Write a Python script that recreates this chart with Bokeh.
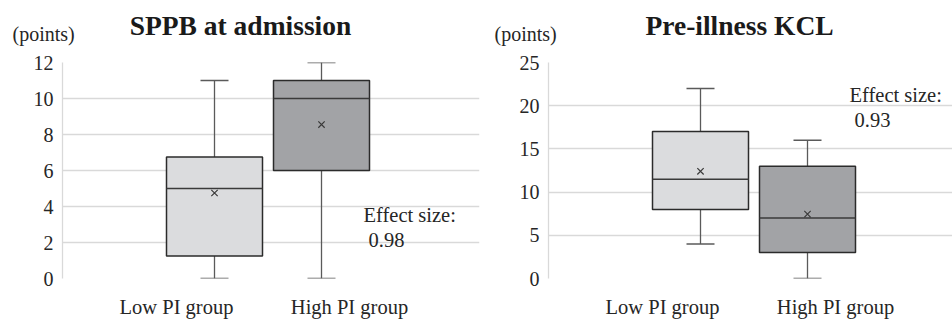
from bokeh.plotting import figure
from bokeh.layouts import row, column
from bokeh.models import Range1d, FixedTicker, Label
from bokeh.embed import file_html
from bokeh.resources import INLINE

# ---------------- data ----------------
groups = ["Low PI group", "High PI group"]

sppb_title = "SPPB at admission"
sppb_min = [0, 0]
sppb_q1 = [1.25, 6]
sppb_med = [5, 10]
sppb_q3 = [6.75, 11]
sppb_max = [11, 12]
sppb_mean = [4.75, 8.55]
sppb_ticks = [0, 2, 4, 6, 8, 10, 12]
sppb_effect = "0.98"

kcl_title = "Pre-illness KCL"
kcl_min = [4, 0]
kcl_q1 = [8, 3]
kcl_med = [11.5, 7]
kcl_q3 = [17, 13]
kcl_max = [22, 16]
kcl_mean = [12.4, 7.45]
kcl_ticks = [0, 5, 10, 15, 20, 25]
kcl_effect = "0.93"

unit_label = "(points)"
effect_label = "Effect size:"

# ---------------- style / layout ----------------
FONT = "Liberation Serif"
TXT = "#262626"
GRID = "#d9d9d9"
FILLS = ["#dbdcde", "#a2a3a6"]
EDGE = "#2b2b2b"
WHISK = "#5a5a5a"
HEAD_H = 50
HEAD_DY = -10             # correction for the header strip's vertical placement
FRAME_H = 216
TOP = 12
BOTTOM = 42
H = TOP + FRAME_H + BOTTOM
CENTERS = [152, 259]      # box centres, px from frame left
BOX_W = 96
CAP_W = 28
LABEL_X = [114, 287]      # category label centres, px from frame left


def text_label(x, y, text, units="screen", size="20.5px", align="left", bold=False, color=TXT):
    return Label(x=x, y=y, x_units=units, y_units=units, text=text,
                 text_font=FONT, text_font_size=size,
                 text_font_style="bold" if bold else "normal",
                 text_color=color, text_align=align, text_baseline="alphabetic")


def make_header(title, width, title_x, points_x):
    # a bare strip whose frame is the whole canvas; data units = pixels, y downwards
    h = figure(width=width, height=HEAD_H, x_range=Range1d(0, width),
               y_range=Range1d(HEAD_H, 0), output_backend="svg", toolbar_location=None,
               min_border=0, frame_align=False)
    h.axis.visible = False
    h.grid.visible = False
    h.outline_line_color = None
    h.background_fill_color = "white"
    h.border_fill_color = "white"
    h.add_layout(text_label(title_x, 35 + HEAD_DY, title, units="data", size="27.5px",
                            align="center", bold=True, color="#1a1a1a"))
    h.add_layout(text_label(points_x, 43 + HEAD_DY, unit_label, units="data", size="20px"))
    return h


def make_chart(vmin, q1, med, q3, vmax, mean, ticks, effect,
               width, left, right, eff_pos):
    ymax = ticks[-1]
    frame_w = width - left - right
    p = figure(width=width, height=H,
               x_range=Range1d(0, frame_w), y_range=Range1d(0, ymax),
               output_backend="svg", toolbar_location=None,
               min_border_left=left, min_border_right=right,
               min_border_top=TOP, min_border_bottom=BOTTOM, frame_align=False)
    p.outline_line_color = None
    p.background_fill_color = "white"
    p.border_fill_color = "white"
    p.xgrid.visible = False
    p.ygrid.ticker = FixedTicker(ticks=ticks)
    p.ygrid.grid_line_color = GRID
    p.ygrid.grid_line_width = 1.3

    ya = p.yaxis[0]
    ya.ticker = FixedTicker(ticks=ticks)
    ya.axis_line_color = GRID
    ya.axis_line_width = 1.3
    ya.major_tick_out = 0
    ya.major_tick_in = 0
    ya.minor_tick_line_color = None
    ya.major_label_standoff = 9
    ya.major_label_text_font = FONT
    ya.major_label_text_font_size = "20px"
    ya.major_label_text_color = TXT

    xa = p.xaxis[0]
    xa.ticker = FixedTicker(ticks=LABEL_X)
    xa.major_label_overrides = {LABEL_X[i]: groups[i] for i in range(len(groups))}
    xa.axis_line_color = None
    xa.major_tick_out = 0
    xa.major_tick_in = 0
    xa.minor_tick_line_color = None
    xa.major_label_standoff = 17
    xa.major_label_text_font = FONT
    xa.major_label_text_font_size = "20.5px"
    xa.major_label_text_color = TXT

    # whiskers
    p.segment(x0=CENTERS, x1=CENTERS, y0=q3, y1=vmax, line_color=WHISK, line_width=1.3)
    p.segment(x0=CENTERS, x1=CENTERS, y0=vmin, y1=q1, line_color=WHISK, line_width=1.3)
    cl = [c - CAP_W / 2 for c in CENTERS]
    cr = [c + CAP_W / 2 for c in CENTERS]
    p.segment(x0=cl, x1=cr, y0=vmax, y1=vmax, line_color=WHISK, line_width=1.5)
    p.segment(x0=cl, x1=cr, y0=vmin, y1=vmin, line_color=WHISK, line_width=1.5)
    # boxes
    p.vbar(x=CENTERS, width=BOX_W, bottom=q1, top=q3, fill_color=FILLS,
           line_color=EDGE, line_width=1.5)
    bl = [c - BOX_W / 2 for c in CENTERS]
    br = [c + BOX_W / 2 for c in CENTERS]
    p.segment(x0=bl, x1=br, y0=med, y1=med, line_color="#3a3a3a", line_width=1.5)
    # means
    p.scatter(x=CENTERS, y=mean, marker="x", size=9, line_color="#3a3a3a", line_width=1.2)

    # effect size (screen units: px from the frame's bottom-left corner)
    ex, ey1, ey2 = eff_pos
    p.add_layout(text_label(ex, ey1, effect_label))
    p.add_layout(text_label(ex + 5, ey2, effect))
    return p


h1 = make_header(sppb_title, 482, title_x=240, points_x=12)
h2 = make_header(kcl_title, 470, title_x=257, points_x=12)
p1 = make_chart(sppb_min, sppb_q1, sppb_med, sppb_q3, sppb_max, sppb_mean,
                sppb_ticks, sppb_effect, width=482, left=62, right=3, eff_pos=(301, 64, 39))
p2 = make_chart(kcl_min, kcl_q1, kcl_med, kcl_q3, kcl_max, kcl_mean,
                kcl_ticks, kcl_effect, width=470, left=66, right=0, eff_pos=(301, 184, 159))

layout = row(column(h1, p1, spacing=0), column(h2, p2, spacing=0), spacing=0)
open("out.html", "w").write(file_html(layout, INLINE))
